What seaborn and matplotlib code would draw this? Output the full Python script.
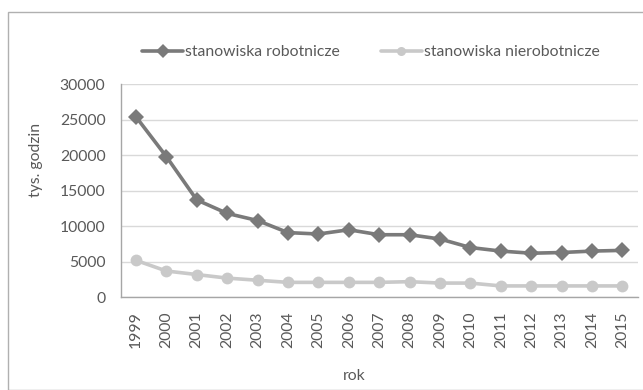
import matplotlib
matplotlib.use("Agg")
import matplotlib.pyplot as plt
import seaborn as sns
import pandas as pd
from matplotlib.patches import Rectangle
from matplotlib.lines import Line2D

# Hours worked (thousands) by type of position, 1999-2015
years = list(range(1999, 2016))
robotnicze = [25400, 19800, 13700, 11800, 10800, 9100, 8900, 9500, 8800,
              8800, 8200, 7000, 6500, 6200, 6300, 6500, 6600]
nierobotnicze = [5200, 3700, 3200, 2700, 2400, 2100, 2100, 2100, 2100,
                 2200, 2000, 2000, 1600, 1600, 1600, 1600, 1600]
series_names = ["stanowiska robotnicze", "stanowiska nierobotnicze"]
y_ticks = [0, 5000, 10000, 15000, 20000, 25000, 30000]

df = pd.DataFrame({
    "rok": years * 2,
    "wartosc": robotnicze + nierobotnicze,
    "seria": [series_names[0]] * len(years) + [series_names[1]] * len(years),
})

sns.set_theme(style="white")
plt.rcParams["font.family"] = ["Lato", "DejaVu Sans"]

W, H = 643, 390
fig = plt.figure(figsize=(W / 100, H / 100), dpi=100)
ax = fig.add_axes([120.7 / W, 1 - 297.3 / H, (637.7 - 120.7) / W, (297.3 - 84) / H])

text_col = "#595959"
dark = "#7a7a7a"
light = "#c9c9c9"
fs = 11.3

sns.lineplot(data=df, x="rok", y="wartosc", hue="seria", style="seria",
             palette={series_names[0]: dark, series_names[1]: light},
             markers={series_names[0]: "D", series_names[1]: "o"},
             dashes=False, linewidth=2.6, markersize=8.5,
             markeredgewidth=0, ax=ax, legend=False)

ax.set_xlim(years[0] - 0.5, years[-1] + 0.5)
ax.set_ylim(0, 30000)
ax.set_yticks(y_ticks)
ax.set_yticklabels([str(v) for v in y_ticks], fontsize=fs, color=text_col)
ax.set_xticks(years)
ax.set_xticklabels([str(y) for y in years], rotation=90, fontsize=fs, color=text_col)
ax.tick_params(axis="y", length=0, pad=11)
ax.tick_params(axis="x", length=0, pad=10)

ax.yaxis.grid(True, color="#d9d9d9", linewidth=1)
ax.set_axisbelow(True)
for side in ["top", "right"]:
    ax.spines[side].set_visible(False)
for side in ["left", "bottom"]:
    ax.spines[side].set_color("#a6a6a6")
    ax.spines[side].set_linewidth(1)

ax.set_xlabel("")
ax.set_ylabel("")
fig.text(354 / W, 1 - 376 / H, "rok", ha="center", va="center",
         fontsize=fs, color=text_col)
fig.text(36 / W, 1 - 160 / H, "tys. godzin", ha="center", va="center",
         rotation=90, fontsize=fs, color=text_col)

# Legend above the plot area
handles = [
    Line2D([], [], color=dark, marker="D", linewidth=2.6, markersize=7, markeredgewidth=0),
    Line2D([], [], color=light, marker="o", linewidth=2.6, markersize=6.5, markeredgewidth=0),
]
fig.legend(handles, series_names, loc="center", bbox_to_anchor=(371 / W, 1 - 52 / H),
           ncol=2, frameon=False, fontsize=fs, handlelength=2.6, handletextpad=0.15,
           columnspacing=2.6, labelcolor=text_col)

# Chart frame
fig.patches.append(Rectangle((7.5 / W, 0), 1, 1 - 11.5 / H, transform=fig.transFigure,
                             fill=False, edgecolor="#b0b0b0", linewidth=1))

fig.savefig("out.png", dpi=100)
